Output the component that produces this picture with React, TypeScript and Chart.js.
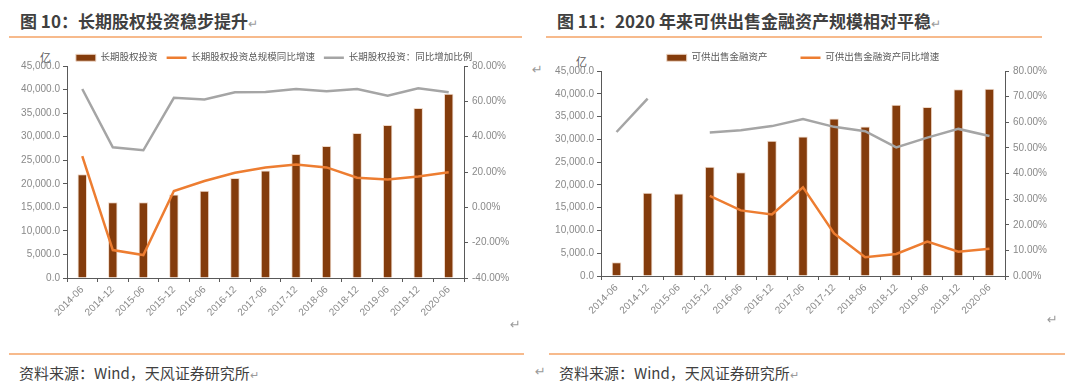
import React, { useEffect, useRef } from "react";
import { Chart, registerables } from "chart.js";

Chart.register(...registerables);

// ---------- data ----------
const categories = [
  "2014-06", "2014-12", "2015-06", "2015-12", "2016-06", "2016-12", "2017-06",
  "2017-12", "2018-06", "2018-12", "2019-06", "2019-12", "2020-06",
];

// 图10
const equityInvest = [22000, 16100, 16100, 17700, 18500, 21200, 22800, 26300, 28000, 30800, 32500, 36100, 39100];
const equityGrowth = [29.0, -24.2, -27.0, 9.2, 14.9, 19.6, 22.6, 24.3, 22.6, 16.8, 15.8, 17.5, 19.8];
const equityRatio = [67.0, 34.0, 32.3, 62.0, 61.1, 65.1, 65.3, 67.0, 65.7, 67.0, 63.2, 67.4, 65.1];

// 图11
const afsAssets = [3000, 18300, 18100, 24000, 22800, 29700, 30600, 34600, 32800, 37600, 37100, 41000, 41100];
const afsGrowth = [null, null, null, 31.3, 25.6, 24.0, 34.6, 16.6, 7.3, 8.6, 13.4, 9.5, 10.6];
const afsRatio = [56.2, 69.2, null, 56.0, 56.9, 58.5, 61.3, 58.2, 56.5, 50.2, 54.0, 57.4, 54.6];

const leftAxisRange = [0, 45000, 5000];
const rightAxisRange10 = [-40, 80, 20];
const rightAxisRange11 = [0, 80, 10];

const seriesNames10 = ["长期股权投资", "长期股权投资总规模同比增速", "长期股权投资：同比增加比例"];
const seriesNames11 = ["可供出售金融资产", "可供出售金融资产同比增速", "可供出售金融资产：同比增加比例"];

// ---------- styles ----------
const BAR = "#843C0C";
const ORANGE = "#ED7D31";
const GRAY = "#A5A5A5";
const AXIS = "#595959";
const TICK = "#898989";
const FONT = "'Liberation Sans', 'Noto Sans CJK SC', sans-serif";

type Cfg = {
  bars: number[];
  growth: (number | null)[];
  ratio: (number | null)[];
  names: string[];
  y1: number[];
  legendPadding: number;
  legendMaxHeight: number;
  yWidth: number;
  y1Width: number;
  xHeight: number;
  hideRatioInLegend: boolean;
};

function makeConfig(c: Cfg): any {
  const fmtLeft = (v: any) =>
    Number(v).toLocaleString("en-US", { minimumFractionDigits: 1, maximumFractionDigits: 1 });
  const fmtRight = (v: any) => Number(v).toFixed(2) + "%";
  return {
    type: "bar",
    data: {
      labels: categories,
      datasets: [
        {
          type: "bar",
          label: c.names[0],
          data: c.bars,
          backgroundColor: BAR,
          borderColor: "#EFD9C9",
          borderWidth: 1,
          barPercentage: 0.31,
          categoryPercentage: 1,
          yAxisID: "y",
          pointStyle: "rect",
          order: 3,
        },
        {
          type: "line",
          label: c.names[1],
          data: c.growth,
          borderColor: ORANGE,
          backgroundColor: ORANGE,
          borderWidth: 2.5,
          pointRadius: 0,
          pointHoverRadius: 0,
          pointBorderWidth: 2.5,
          pointBorderColor: ORANGE,
          pointBackgroundColor: ORANGE,
          pointStyle: "line",
          tension: 0,
          spanGaps: false,
          fill: false,
          yAxisID: "y1",
          order: 1,
        },
        {
          type: "line",
          label: c.names[2],
          data: c.ratio,
          borderColor: GRAY,
          backgroundColor: GRAY,
          borderWidth: 2.5,
          pointRadius: 0,
          pointHoverRadius: 0,
          pointBorderWidth: 2.5,
          pointBorderColor: GRAY,
          pointBackgroundColor: GRAY,
          pointStyle: "line",
          tension: 0,
          spanGaps: false,
          fill: false,
          yAxisID: "y1",
          order: 2,
        },
      ],
    },
    options: {
      responsive: false,
      maintainAspectRatio: false,
      animation: false,
      layout: { padding: 0 },
      plugins: {
        tooltip: { enabled: false },
        legend: {
          display: true,
          position: "top",
          fullSize: true,
          maxHeight: c.legendMaxHeight,
          labels: {
            usePointStyle: true,
            pointStyleWidth: 20,
            boxHeight: 7,
            padding: c.legendPadding,
            color: "#595959",
            font: { family: FONT, size: 9.5 },
            sort: (a: any, b: any) => a.datasetIndex - b.datasetIndex,
            filter: (item: any) => !(c.hideRatioInLegend && item.datasetIndex === 2),
          },
        },
      },
      scales: {
        x: {
          type: "category",
          offset: true,
          grid: {
            offset: true,
            drawOnChartArea: false,
            drawTicks: true,
            tickLength: 4,
            color: AXIS,
          },
          border: { display: true, color: AXIS, width: 1 },
          ticks: {
            autoSkip: false,
            minRotation: 45,
            maxRotation: 45,
            color: TICK,
            padding: 2,
            font: { family: FONT, size: 10 },
          },
          afterFit: (s: any) => {
            s.height = c.xHeight;
          },
        },
        y: {
          position: "left",
          min: leftAxisRange[0],
          max: leftAxisRange[1],
          grid: { drawOnChartArea: false, drawTicks: true, tickLength: 4, color: AXIS },
          border: { display: true, color: AXIS, width: 1 },
          ticks: {
            stepSize: leftAxisRange[2],
            color: TICK,
            padding: 3,
            font: { family: FONT, size: 10 },
            callback: fmtLeft,
          },
          afterFit: (s: any) => {
            s.width = c.yWidth;
          },
        },
        y1: {
          position: "right",
          min: c.y1[0],
          max: c.y1[1],
          grid: { drawOnChartArea: false, drawTicks: true, tickLength: 4, color: AXIS },
          border: { display: true, color: AXIS, width: 1 },
          ticks: {
            stepSize: c.y1[2],
            color: TICK,
            padding: 4,
            font: { family: FONT, size: 10 },
            callback: fmtRight,
          },
          afterFit: (s: any) => {
            s.width = c.y1Width;
          },
        },
      },
    },
  };
}

function ChartBox(props: { cfg: Cfg; left: number; top: number; width: number; height: number }) {
  const ref = useRef<HTMLCanvasElement | null>(null);
  useEffect(() => {
    if (!ref.current) return;
    const chart = new Chart(ref.current, makeConfig(props.cfg));
    return () => chart.destroy();
  }, []);
  return (
    <canvas
      ref={ref}
      width={props.width}
      height={props.height}
      style={{
        position: "absolute",
        left: props.left,
        top: props.top,
        width: props.width,
        height: props.height,
      }}
    />
  );
}

const cfg10: Cfg = {
  bars: equityInvest,
  growth: equityGrowth,
  ratio: equityRatio,
  names: seriesNames10,
  y1: rightAxisRange10,
  legendPadding: 9,
  legendMaxHeight: 22,
  yWidth: 49,
  y1Width: 66,
  xHeight: 66,
  hideRatioInLegend: false,
};

const cfg11: Cfg = {
  bars: afsAssets,
  growth: afsGrowth,
  ratio: afsRatio,
  names: seriesNames11,
  y1: rightAxisRange11,
  legendPadding: 33,
  legendMaxHeight: 51,
  yWidth: 50,
  y1Width: 50,
  xHeight: 66,
  hideRatioInLegend: true,
};

const RET = "\u21B5";

function Text(props: { x: number; y: number; size: number; color: string; bold?: boolean; children: any }) {
  return (
    <div
      style={{
        position: "absolute",
        left: props.x,
        top: props.y - props.size / 2 - 1,
        fontSize: props.size,
        lineHeight: `${props.size + 2}px`,
        color: props.color,
        fontWeight: props.bold ? 700 : 400,
        whiteSpace: "nowrap",
      }}
    >
      {props.children}
    </div>
  );
}

function Rule(props: { x1: number; x2: number; y: number }) {
  return (
    <div
      style={{
        position: "absolute",
        left: props.x1,
        top: props.y - 1,
        width: props.x2 - props.x1,
        height: 1.5,
        background: "#F7BA8C",
      }}
    />
  );
}

function Ret(props: { x: number; y: number }) {
  return (
    <div
      style={{
        position: "absolute",
        left: props.x,
        top: props.y - 8,
        fontSize: 13,
        lineHeight: "16px",
        color: "#9a9a9a",
        fontFamily: "'DejaVu Sans', sans-serif",
      }}
    >
      {RET}
    </div>
  );
}

export default function App() {
  return (
    <div
      style={{
        position: "absolute",
        left: 0,
        top: 0,
        width: 1080,
        height: 386,
        overflow: "hidden",
        background: "#ffffff",
        fontFamily: "'Noto Sans CJK SC', 'Liberation Sans', sans-serif",
      }}
    >
      <Text x={20} y={20} size={17} color="#404040" bold>
        图 10：长期股权投资稳步提升<span style={{ fontWeight: 400, fontSize: 12, color: "#9a9a9a" }}>{RET}</span>
      </Text>
      <Text x={557} y={20} size={17} color="#404040" bold>
        图 11：2020 年来可供出售金融资产规模相对平稳<span style={{ fontWeight: 400, fontSize: 12, color: "#9a9a9a" }}>{RET}</span>
      </Text>
      <Rule x1={9} x2={522} y={37} />
      <Rule x1={546} x2={1042} y={37} />

      <Text x={40} y={57} size={11} color="#595959">亿</Text>
      <Text x={576} y={61} size={11} color="#595959">亿</Text>

      <ChartBox cfg={cfg10} left={18} top={44} width={512} height={300} />
      <ChartBox cfg={cfg11} left={551} top={20} width={504} height={322} />

      <Ret x={532} y={70} />
      <Ret x={510} y={325} />
      <Ret x={1047} y={320} />

      <Rule x1={9} x2={524} y={354} />
      <Rule x1={549} x2={1065} y={354} />

      <Text x={19} y={372} size={15} color="#404040">
        资料来源：Wind，天风证券研究所<span style={{ fontSize: 11, color: "#9a9a9a" }}>{RET}</span>
      </Text>
      <Ret x={535} y={372} />
      <Text x={559} y={372} size={15} color="#404040">
        资料来源：Wind，天风证券研究所<span style={{ fontSize: 11, color: "#9a9a9a" }}>{RET}</span>
      </Text>
    </div>
  );
}
